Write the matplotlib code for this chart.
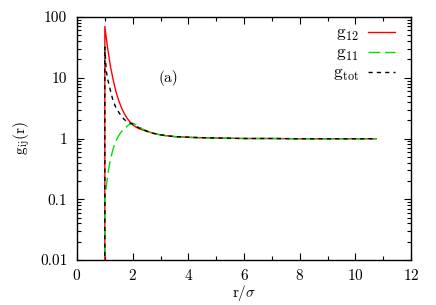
import numpy as np
import matplotlib
matplotlib.use("Agg")
import matplotlib.pyplot as plt
from matplotlib.ticker import FixedLocator, FuncFormatter, MultipleLocator, LogLocator, NullFormatter

plt.rcParams['font.family'] = ['cmr10', 'DejaVu Serif']
plt.rcParams['mathtext.fontset'] = 'cm'
plt.rcParams['axes.formatter.use_mathtext'] = True

# radial distance r/sigma
r = [1.0, 1.0, 1.05, 1.1, 1.15, 1.2, 1.3, 1.4, 1.5, 1.6, 1.7, 1.8, 1.9, 2.0,
     2.1, 2.2, 2.4, 2.6, 2.8, 3.0, 3.3, 3.6, 4.0, 4.5, 5.0, 6.0, 7.0, 8.0,
     9.0, 10.0, 10.75]

g12 = [0.001, 70, 46, 31, 22, 15.5, 9.2, 5.9, 4.2, 3.2, 2.56, 2.16, 1.88, 1.68,
       1.56, 1.47, 1.36, 1.27, 1.2, 1.15, 1.1, 1.07, 1.05, 1.03, 1.02,
       1.0, 1.0, 0.99, 0.99, 0.99, 0.99]

g11 = [0.001, 0.1, 0.16, 0.24, 0.34, 0.45, 0.68, 0.92, 1.12, 1.3, 1.46,
       1.6, 1.72, 1.78, 1.7, 1.58, 1.4, 1.28, 1.2, 1.14, 1.09, 1.06, 1.04,
       1.02, 1.01, 1.0, 1.0, 0.99, 0.99, 0.99, 0.99]

gtot = [0.001, 32, 13, 9.5, 7.8, 6.2, 4.1, 3.2, 2.7, 2.3, 2.05, 1.9, 1.8,
        1.74, 1.62, 1.52, 1.38, 1.28, 1.2, 1.15, 1.1, 1.07, 1.05, 1.03,
        1.02, 1.0, 1.0, 0.99, 0.99, 0.99, 0.99]

fig = plt.figure(figsize=(4.36, 3.05), dpi=100)
ax = fig.add_axes([0.1766, 0.1475, 0.7661, 0.7968])

ax.plot(r, g12, color='#ff0000', lw=1.0, label=r'$\mathrm{g_{12}}$')
ax.plot(r, g11, color='#00e000', lw=1.0, dashes=(8.5, 3.5), label=r'$\mathrm{g_{11}}$')
ax.plot(r, gtot, color='black', lw=1.0, dashes=(3, 3), label=r'$\mathrm{g_{tot}}$')

ax.set_yscale('log')
ax.set_xlim(0, 12)
ax.set_ylim(0.01, 100)
ax.xaxis.set_major_locator(MultipleLocator(2))
ax.xaxis.set_minor_locator(MultipleLocator(1))
ax.yaxis.set_major_locator(FixedLocator([0.01, 0.1, 1, 10, 100]))
ax.yaxis.set_minor_locator(LogLocator(base=10, subs=np.arange(2, 10)))
ax.yaxis.set_minor_formatter(NullFormatter())
ax.yaxis.set_major_formatter(FuncFormatter(lambda v, p: '%g' % v))
ax.tick_params(which='both', direction='in', top=True, right=True, labelsize=11)
ax.tick_params(axis='x', pad=6)
ax.tick_params(axis='y', pad=7)
ax.tick_params(which='major', length=5, width=0.8)
ax.tick_params(which='minor', length=3, width=0.8)
for s in ax.spines.values():
    s.set_linewidth(1.0)

ax.set_xlabel(r'r/$\sigma$', fontsize=11, labelpad=0)
ax.set_ylabel(r'$\mathrm{g_{ij}(r)}$', fontsize=11, labelpad=6)
ax.text(3.3, 10, '(a)', fontsize=11, ha='center', va='center')

ax.legend(loc='upper right', bbox_to_anchor=(0.979, 1.0), frameon=False,
          markerfirst=False, fontsize=12.5, handlelength=1.6, handletextpad=0.5,
          labelspacing=0.15, borderaxespad=0.2, borderpad=0.3)

fig.savefig('out.png', dpi=100)
